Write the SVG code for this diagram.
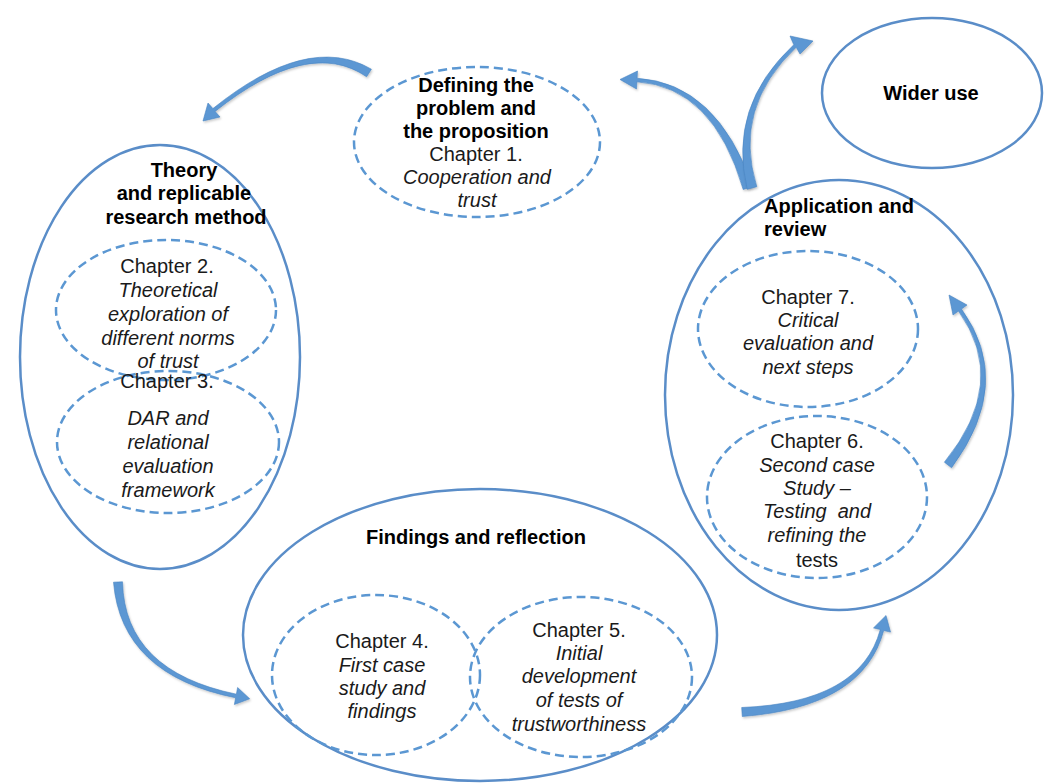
<svg xmlns="http://www.w3.org/2000/svg" width="1049" height="783" viewBox="0 0 1049 783">
  <defs>
    <filter id="soft" x="-10%" y="-10%" width="120%" height="120%">
      <feDropShadow dx="1" dy="1.5" stdDeviation="1" flood-color="#000" flood-opacity="0.22"/>
    </filter>
  </defs>
  <style>
    .stage { fill: #fff; stroke: #5a8dc8; stroke-width: 2.5; }
    .chapter { fill: none; stroke: #5b97d2; stroke-width: 2.5; stroke-dasharray: 9 5; }
    .head { font-family: "Liberation Sans", Arial, sans-serif; font-size: 20px; font-weight: bold; fill: #000; }
    .txt { font-family: "Liberation Sans", Arial, sans-serif; font-size: 20px; fill: #1a1a1a; text-anchor: middle; }
    .it { font-style: italic; }
    .arrow { fill: #5b97d3; stroke: #4a84c2; stroke-width: 0.6; filter: url(#soft); }
  </style>
  <rect width="1049" height="783" fill="#fff"/>

  <!-- outer stage ellipses -->
  <g id="theory">
    <ellipse class="stage" cx="160" cy="357" rx="140" ry="212"/>
    <text class="head" text-anchor="middle" x="184" y="176.5">Theory</text>
    <text class="head" text-anchor="middle" x="184" y="200">and replicable</text>
    <text class="head" text-anchor="middle" x="186" y="223.5">research method</text>
  </g>

  <g id="findings">
    <ellipse class="stage" cx="480" cy="635" rx="237" ry="146"/>
    <text class="head" text-anchor="middle" x="476" y="544">Findings and reflection</text>
  </g>

  <g id="application">
    <ellipse class="stage" cx="839" cy="395" rx="174" ry="215"/>
    <text class="head" x="764" y="213">Application and</text>
    <text class="head" x="764" y="236">review</text>
  </g>

  <g id="wider-use">
    <ellipse class="stage" cx="932" cy="93" rx="110" ry="75"/>
    <text class="head" text-anchor="middle" x="931" y="100">Wider use</text>
  </g>

  <!-- chapter ellipses -->
  <g id="chapter1">
    <ellipse class="chapter" cx="477" cy="142" rx="123" ry="75"/>
    <text class="head" text-anchor="middle" x="476" y="91.5">Defining the</text>
    <text class="head" text-anchor="middle" x="476" y="114.5">problem and</text>
    <text class="head" text-anchor="middle" x="476" y="137.5">the proposition</text>
    <text class="txt" x="476" y="160.5">Chapter 1.</text>
    <text class="txt it" x="477" y="183.5">Cooperation and</text>
    <text class="txt it" x="477" y="206.5">trust</text>
  </g>

  <g id="chapter2">
    <ellipse class="chapter" cx="166" cy="310" rx="110" ry="70"/>
    <text class="txt" x="167" y="273">Chapter 2.</text>
    <text class="txt it" x="168" y="297">Theoretical</text>
    <text class="txt it" x="168" y="321">exploration of</text>
    <text class="txt it" x="168" y="345">different norms</text>
    <text class="txt it" x="168" y="368">of trust</text>
  </g>

  <g id="chapter3">
    <ellipse class="chapter" cx="168" cy="442" rx="111" ry="71"/>
    <text class="txt" x="167" y="388">Chapter 3.</text>
    <text class="txt it" x="168" y="425">DAR and</text>
    <text class="txt it" x="168" y="449">relational</text>
    <text class="txt it" x="168" y="473">evaluation</text>
    <text class="txt it" x="168" y="497">framework</text>
  </g>

  <g id="chapter4">
    <ellipse class="chapter" cx="376" cy="675" rx="104" ry="80"/>
    <text class="txt" x="382" y="648">Chapter 4.</text>
    <text class="txt it" x="382" y="672">First case</text>
    <text class="txt it" x="382" y="695">study and</text>
    <text class="txt it" x="382" y="718">findings</text>
  </g>

  <g id="chapter5">
    <ellipse class="chapter" cx="581" cy="677" rx="111" ry="80"/>
    <text class="txt" x="579" y="637">Chapter 5.</text>
    <text class="txt it" x="579" y="660">Initial</text>
    <text class="txt it" x="579" y="683">development</text>
    <text class="txt it" x="579" y="707">of tests of</text>
    <text class="txt it" x="579" y="731">trustworthiness</text>
  </g>

  <g id="chapter6">
    <ellipse class="chapter" cx="817" cy="497" rx="110" ry="81"/>
    <text class="txt" x="817" y="448">Chapter 6.</text>
    <text class="txt it" x="817" y="472">Second case</text>
    <text class="txt it" x="817" y="495">Study –</text>
    <text class="txt it" x="817" y="518" xml:space="preserve">Testing  and</text>
    <text class="txt it" x="817" y="542">refining the</text>
    <text class="txt" x="817" y="567">tests</text>
  </g>

  <g id="chapter7">
    <ellipse class="chapter" cx="808" cy="329" rx="110" ry="78"/>
    <text class="txt" x="808" y="304">Chapter 7.</text>
    <text class="txt it" x="808" y="327">Critical</text>
    <text class="txt it" x="808" y="350">evaluation and</text>
    <text class="txt it" x="808" y="374">next steps</text>
  </g>

  <!-- curved block arrows: wide tail tapering into a head -->
  <g id="connectors">
    <path class="arrow" d="M371.4,69.2 Q307.9,32.1 212.9,108.6 L208,103 L203,121 L220,117 L215.1,111.4 Q309.1,36.9 366.6,76.8 Z"/>
    <path class="arrow" d="M752.8,186.5 Q716.7,83.2 637.1,78.2 L637.5,71 L620,79.5 L636.5,89 L636.9,81.8 Q713.3,86.8 743.2,189.5 Z"/>
    <path class="arrow" d="M756.8,186.7 Q732.4,107.7 796.2,47.3 L800,54 L813,41 L790,36 L793.8,44.7 Q727.6,106.3 747.2,189.3 Z"/>
    <path class="arrow" d="M113.5,582.2 Q121.3,674.8 235.6,697.8 L234.4,704.5 L249.7,698.8 L237.6,687.5 L236.4,694.2 Q124.7,671.2 122.5,581.8 Z"/>
    <path class="arrow" d="M742.3,716.5 Q863.3,707.2 883.7,630.5 L890.5,632.1 L886,615.5 L873.5,627.9 L880.3,629.5 Q860.7,702.8 741.7,707.5 Z"/>
    <path class="arrow" d="M951.6,467.8 Q1014.5,382.7 961.5,309 L967,305 L949,295 L953,315 L958.5,311 Q1009.5,382.3 944.4,462.2 Z"/>
  </g>
</svg>
